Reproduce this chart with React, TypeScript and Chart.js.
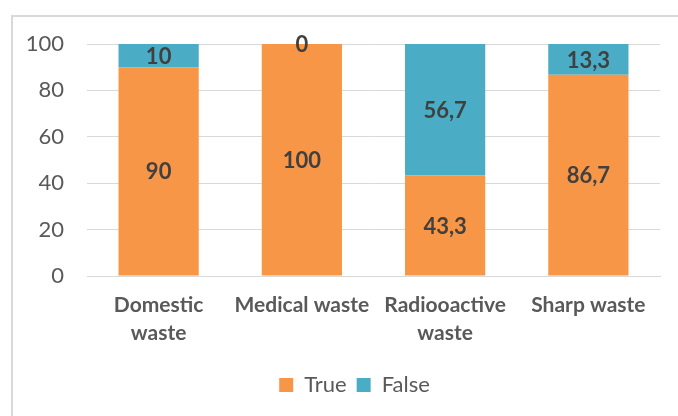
import React, { useEffect, useRef } from "react";
import { Chart, registerables } from "chart.js";

Chart.register(...registerables);

const categories: (string | string[])[] = [["Domestic", "waste"], "Medical waste", ["Radiooactive", "waste"], "Sharp waste"];
const trueValues = [90, 100, 43.3, 86.7];
const falseValues = [10, 0, 56.7, 13.3];
const yTicks = [0, 20, 40, 60, 80, 100];

const FONT = "Lato, 'Open Sans', sans-serif";

const labelPlugin = {
  id: "barLabels",
  afterDatasetsDraw(chart: any) {
    const ctx = chart.ctx;
    ctx.save();
    ctx.font = `bold 22px ${FONT}`;
    ctx.fillStyle = "#404040";
    ctx.textAlign = "center";
    ctx.textBaseline = "middle";
    chart.data.datasets.forEach((ds: any, di: number) => {
      const meta = chart.getDatasetMeta(di);
      meta.data.forEach((el: any, i: number) => {
        const v = ds.data[i];
        const cy = (el.y + el.base) / 2;
        ctx.fillText(String(v).replace(".", ","), el.x, cy + 1);
      });
    });
    ctx.restore();
  },
};

const legendShift = {
  id: "legendShift",
  afterLayout(chart: any) {
    if (chart.legend) {
      chart.legend.left += 18;
      chart.legend.right += 18;
    }
  },
};

export default function App() {
  const ref = useRef<HTMLCanvasElement>(null);
  useEffect(() => {
    if (!ref.current) return;
    const chart = new Chart(ref.current, {
      type: "bar",
      data: {
        labels: categories,
        datasets: [
          { label: "True", data: trueValues, backgroundColor: "#F79646", categoryPercentage: 1, barPercentage: 0.56 },
          { label: "False", data: falseValues, backgroundColor: "#4BACC6", categoryPercentage: 1, barPercentage: 0.56 },
        ],
      },
      options: {
        responsive: false,
        animation: false,
        layout: { padding: { top: 27, right: 39, left: 0, bottom: 37 } },
        plugins: {
          legend: {
            position: "bottom",
            labels: {
              boxWidth: 14,
              boxHeight: 14,
              padding: 10,
              color: "#595959",
              font: { family: FONT, size: 22 },
            },
          },
          tooltip: { enabled: false },
        },
        scales: {
          x: {
            stacked: true,
            grid: { display: false, drawTicks: false },
            border: { display: true, color: "#d9d9d9", width: 1 },
            ticks: {
              color: "#595959",
              padding: 15,
              maxRotation: 0,
              autoSkip: false,
              font: { family: FONT, size: 21, weight: "bold", lineHeight: 1.33 },
            },
            afterFit(scale: any) {
              scale.height = 88;
            },
          },
          y: {
            stacked: true,
            min: 0,
            max: 100,
            afterBuildTicks(scale: any) {
              scale.ticks = yTicks.map((v) => ({ value: v }));
            },
            grid: { color: "#d9d9d9", lineWidth: 1, drawTicks: false },
            border: { display: false },
            ticks: {
              color: "#595959",
              padding: 23,
              font: { family: FONT, size: 22 },
            },
            afterFit(scale: any) {
              scale.width = 74;
              scale.paddingTop = 0;
              scale.paddingBottom = 0;
            },
          },
        },
      },
      plugins: [labelPlugin, legendShift],
    } as any);
    return () => chart.destroy();
  }, []);
  return (
    <div style={{ position: "fixed", left: 0, top: 0, width: 678, height: 416, overflow: "hidden", background: "#fff" }}>
      <div
        style={{
          position: "absolute",
          left: 11,
          top: 15,
          width: 690,
          height: 430,
          border: "2px solid #d9d9d9",
          boxSizing: "border-box",
        }}
      >
        <canvas ref={ref} width={686} height={426} style={{ display: "block" }} />
      </div>
    </div>
  );
}
